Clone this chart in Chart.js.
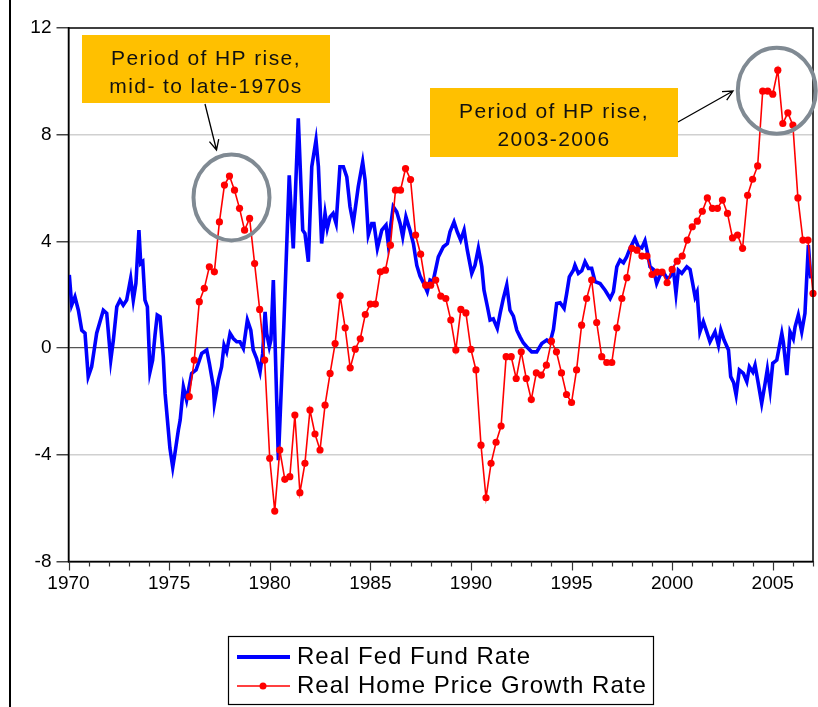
<!DOCTYPE html>
<html>
<head>
<meta charset="utf-8">
<script src="https://cdn.jsdelivr.net/npm/chart.js@4.4.1/dist/chart.umd.min.js"></script>
<style>
  html, body { margin: 0; padding: 0; background: #fff; }
  #wrap { width: 818px; height: 707px; }
</style>
</head>
<body>
<div id="wrap"><canvas id="rateChart" width="818" height="707"></canvas></div>
<script>
// real fed fund rate (decimal year, percent)
const fedYears = [1970.04,1970.16,1970.32,1970.49,1970.66,1970.82,1970.98,1971.15,1971.40,1971.73,1971.90,1972.10,1972.23,1972.40,1972.56,1972.72,1972.89,1973.09,1973.22,1973.35,1973.50,1973.59,1973.69,1973.80,1973.92,1974.05,1974.18,1974.30,1974.41,1974.55,1974.71,1974.80,1975.04,1975.18,1975.29,1975.46,1975.55,1975.71,1975.87,1976.12,1976.34,1976.62,1976.87,1977.00,1977.20,1977.25,1977.45,1977.61,1977.73,1977.86,1978.03,1978.19,1978.36,1978.52,1978.69,1978.89,1979.06,1979.18,1979.35,1979.52,1979.65,1979.77,1979.85,1979.98,1980.06,1980.18,1980.43,1980.70,1980.97,1981.17,1981.42,1981.64,1981.75,1981.92,1982.09,1982.30,1982.42,1982.58,1982.75,1982.86,1983.00,1983.15,1983.30,1983.49,1983.66,1983.83,1983.99,1984.15,1984.40,1984.62,1984.74,1984.90,1985.07,1985.18,1985.35,1985.57,1985.78,1985.89,1986.14,1986.31,1986.48,1986.61,1986.77,1986.97,1987.14,1987.31,1987.47,1987.67,1987.83,1987.97,1988.12,1988.38,1988.63,1988.83,1988.96,1989.16,1989.32,1989.49,1989.66,1989.82,1990.04,1990.20,1990.37,1990.54,1990.65,1990.82,1990.95,1991.11,1991.31,1991.45,1991.61,1991.78,1991.94,1992.11,1992.28,1992.44,1992.60,1992.77,1993.02,1993.27,1993.52,1993.77,1993.93,1994.10,1994.26,1994.43,1994.63,1994.76,1994.89,1995.09,1995.17,1995.34,1995.51,1995.67,1995.84,1996.00,1996.17,1996.42,1996.67,1996.92,1997.08,1997.25,1997.41,1997.58,1997.74,1997.91,1998.15,1998.32,1998.49,1998.65,1998.77,1998.90,1999.07,1999.23,1999.40,1999.60,1999.76,1999.89,2000.06,2000.19,2000.31,2000.48,2000.73,2000.89,2001.02,2001.14,2001.24,2001.38,2001.55,2001.72,2001.88,2002.13,2002.30,2002.42,2002.58,2002.80,2002.91,2003.06,2003.18,2003.34,2003.54,2003.71,2003.84,2004.01,2004.12,2004.28,2004.45,2004.62,2004.73,2004.87,2005.00,2005.20,2005.45,2005.53,2005.70,2005.86,2006.02,2006.11,2006.27,2006.44,2006.60,2006.77,2006.89];
const fedRate = [2.74,1.61,1.92,1.42,0.67,0.56,-1.07,-0.70,0.56,1.42,1.30,-0.45,0.30,1.55,1.80,1.61,1.80,2.61,1.80,2.43,4.42,3.17,3.24,1.80,1.55,-0.89,-0.45,0.49,1.24,1.17,-0.33,-1.70,-3.75,-4.47,-3.94,-3.07,-2.70,-1.45,-1.95,-0.95,-0.82,-0.20,-0.07,-0.57,-1.45,-2.07,-1.20,-0.70,0.11,-0.14,0.55,0.36,0.24,0.24,-0.01,1.05,0.67,-0.07,-0.39,-0.89,-0.20,1.36,0.55,0.05,0.30,2.55,-4.20,0.80,6.48,3.74,8.61,4.42,4.30,3.24,6.80,7.80,6.80,3.92,5.05,4.49,4.92,5.05,4.67,6.80,6.80,6.42,5.30,4.67,6.05,6.98,6.30,4.24,4.67,4.67,3.74,4.42,4.61,3.92,5.30,5.11,4.67,4.17,4.92,4.42,3.92,3.10,2.70,2.40,2.11,2.55,2.50,3.42,3.80,3.92,4.36,4.73,4.36,4.05,4.42,3.67,2.80,3.10,3.74,3.05,2.17,1.55,1.05,1.10,0.74,1.30,1.86,2.36,1.42,1.20,0.67,0.42,0.20,0.05,-0.14,-0.14,0.17,0.30,0.20,0.70,1.67,1.70,1.49,2.05,2.67,2.92,3.11,2.80,2.90,3.24,2.99,2.99,2.49,2.42,2.17,1.86,2.11,3.05,3.30,3.20,3.42,3.74,4.11,3.80,3.75,4.02,3.60,3.05,2.95,2.42,2.74,2.80,2.60,2.67,2.95,2.05,2.92,2.80,3.05,2.95,2.42,1.92,2.10,0.61,0.99,0.61,0.24,0.61,0.11,0.67,0.30,-0.07,-1.07,-1.30,-1.76,-0.82,-0.95,-1.26,-0.70,-0.90,-0.64,-1.32,-2.07,-1.32,-0.80,-1.57,-0.57,-0.45,0.55,0.20,-1.01,0.61,0.35,0.80,1.24,0.61,1.30,3.86,2.61];

// real home price growth rate, quarterly from 1976Q1
const hpStartYear = 1976;
const hpRate = [-1.82,-0.45,1.74,2.24,3.05,2.86,4.73,6.11,6.45,5.92,5.24,4.42,4.86,3.17,1.45,-0.45,-4.13,-6.11,-3.82,-4.92,-4.82,-2.51,-5.42,-4.32,-2.32,-3.22,-3.82,-2.14,-0.95,0.17,1.96,0.76,-0.74,-0.04,0.35,1.26,1.65,1.65,2.86,2.92,3.86,5.92,5.92,6.73,6.32,4.24,3.52,2.36,2.36,2.55,1.95,1.86,1.05,-0.07,1.45,1.32,-0.05,-0.82,-3.64,-5.61,-4.32,-3.53,-2.92,-0.32,-0.32,-1.14,-0.14,-1.14,-1.93,-0.93,-1.01,-0.64,0.26,-0.14,-0.93,-1.74,-2.04,-0.82,0.86,1.86,2.55,0.96,-0.32,-0.54,-0.54,0.76,1.86,2.64,3.74,3.67,3.45,3.45,2.76,2.85,2.85,2.45,2.95,3.26,3.45,4.05,4.55,4.76,5.13,5.63,5.24,5.24,5.55,5.05,4.13,4.24,3.74,5.73,6.33,6.83,9.63,9.63,9.52,10.42,8.42,8.82,8.36,5.63,4.05,4.05,2.05];

const xTickYears = [1970, 1975, 1980, 1985, 1990, 1995, 2000, 2005];
const yTickValues = [-8, -4, 0, 4, 8, 12];

const seriesNames = ['Real Fed Fund Rate', 'Real Home Price Growth Rate'];
const notes = [
  { lines: ['Period of HP rise,', 'mid- to late-1970s'] },
  { lines: ['Period of HP rise,', '2003-2006'] }
];

const fedPoints = fedYears.map((yr, i) => ({ x: yr, y: fedRate[i] }));
const hpPoints = hpRate.map((v, i) => ({ x: hpStartYear + i * 0.25, y: v }));

function drawArrow(ctx, x1, y1, x2, y2) {
  const ang = Math.atan2(y2 - y1, x2 - x1);
  ctx.beginPath();
  ctx.moveTo(x1, y1);
  ctx.lineTo(x2, y2);
  ctx.moveTo(x2 - 11 * Math.cos(ang - 0.45), y2 - 11 * Math.sin(ang - 0.45));
  ctx.lineTo(x2, y2);
  ctx.lineTo(x2 - 11 * Math.cos(ang + 0.45), y2 - 11 * Math.sin(ang + 0.45));
  ctx.stroke();
}

function drawNote(ctx, box, lines) {
  ctx.fillStyle = '#FFC000';
  ctx.fillRect(box.x, box.y, box.w, box.h);
  ctx.fillStyle = '#111';
  ctx.font = '21px "Liberation Sans", Arial, sans-serif';
  ctx.letterSpacing = '1.4px';
  ctx.textAlign = 'center';
  ctx.textBaseline = 'alphabetic';
  ctx.fillText(lines[0], box.x + box.w / 2, box.y + 30);
  ctx.fillText(lines[1], box.x + box.w / 2, box.y + 58);
  ctx.letterSpacing = '0px';
}

const extras = {
  id: 'extras',
  afterDraw(chart) {
    const ctx = chart.ctx;
    const area = chart.chartArea;
    const xs = chart.scales.x;
    const ys = chart.scales.y;
    ctx.save();

    // frame of the plot
    ctx.strokeStyle = '#000';
    ctx.lineWidth = 1.5;
    ctx.strokeRect(area.left, area.top, area.right - area.left, area.bottom - area.top);

    // yearly ticks on the time axis
    ctx.lineWidth = 1.2;
    ctx.strokeStyle = '#333';
    for (let yr = 1970; yr <= 2007; yr++) {
      const px = Math.round(xs.getPixelForValue(yr)) + 0.5;
      const len = yr % 5 === 0 ? 9 : 5;
      ctx.beginPath();
      ctx.moveTo(px, area.bottom);
      ctx.lineTo(px, area.bottom + len);
      ctx.stroke();
    }

    // outer frame line on the left
    ctx.strokeStyle = '#000';
    ctx.lineWidth = 2;
    ctx.beginPath();
    ctx.moveTo(10, 0);
    ctx.lineTo(10, 707);
    ctx.stroke();

    // circles round the two periods
    ctx.strokeStyle = '#808a93';
    ctx.lineWidth = 4;
    ctx.beginPath();
    ctx.ellipse(xs.getPixelForValue(1978.1), ys.getPixelForValue(5.65), 38, 43, 0, 0, Math.PI * 2);
    ctx.stroke();
    ctx.beginPath();
    ctx.ellipse(xs.getPixelForValue(2005.2), ys.getPixelForValue(9.65), 39, 43, 0, 0, Math.PI * 2);
    ctx.stroke();

    // note boxes and arrows
    drawNote(ctx, { x: 82, y: 35, w: 248, h: 68 }, notes[0].lines);
    drawNote(ctx, { x: 430, y: 88, w: 248, h: 69 }, notes[1].lines);
    ctx.strokeStyle = '#000';
    ctx.lineWidth = 1.3;
    drawArrow(ctx, 205, 104, 216.5, 150);
    drawArrow(ctx, 678, 122, 733, 91);

    // legend
    ctx.strokeStyle = '#000';
    ctx.lineWidth = 1.2;
    ctx.strokeRect(228.5, 636.5, 425, 68);
    ctx.strokeStyle = '#0000FF';
    ctx.lineWidth = 4;
    ctx.beginPath();
    ctx.moveTo(237, 657);
    ctx.lineTo(290, 657);
    ctx.stroke();
    ctx.strokeStyle = '#FF0000';
    ctx.lineWidth = 1.5;
    ctx.beginPath();
    ctx.moveTo(237, 686);
    ctx.lineTo(290, 686);
    ctx.stroke();
    ctx.fillStyle = '#FF0000';
    ctx.beginPath();
    ctx.arc(263, 686, 3.5, 0, Math.PI * 2);
    ctx.fill();
    ctx.fillStyle = '#000';
    ctx.font = '24px "Liberation Sans", Arial, sans-serif';
    ctx.letterSpacing = '1px';
    ctx.textAlign = 'left';
    ctx.textBaseline = 'middle';
    ctx.fillText(seriesNames[0], 297, 657);
    ctx.fillText(seriesNames[1], 297, 686);
    ctx.restore();
  }
};

const ctx = document.getElementById('rateChart');

new Chart(ctx, {
  type: 'line',
  data: {
    datasets: [{
      label: seriesNames[1],
      data: hpPoints,
      borderColor: '#FF0000',
      backgroundColor: '#FF0000',
      borderWidth: 1.6,
      pointRadius: 3.6,
      pointBorderWidth: 0,
      pointBackgroundColor: '#FF0000',
      tension: 0,
      clip: { left: 0, top: 0, right: 6, bottom: 0 },
      order: 0
    }, {
      label: seriesNames[0],
      data: fedPoints,
      borderColor: '#0000FF',
      borderWidth: 3.6,
      pointRadius: 0,
      tension: 0,
      order: 1
    }]
  },
  options: {
    responsive: false,
    animation: false,
    layout: { padding: { left: 0, right: 5, top: 28, bottom: 105.5 } },
    plugins: {
      legend: { display: false },
      tooltip: { enabled: false }
    },
    scales: {
      x: {
        type: 'linear',
        min: 1970,
        max: 2007,
        afterBuildTicks: (scale) => { scale.ticks = xTickYears.map(v => ({ value: v })); },
        afterFit: (scale) => { scale.height = 40; },
        grid: { display: true, drawOnChartArea: false, drawTicks: false },
        border: { color: '#000', width: 1.5 },
        ticks: {
          padding: 11,
          maxRotation: 0,
          color: '#000',
          font: { family: '"Liberation Sans", Arial, sans-serif', size: 19 },
          callback: (v) => String(v)
        }
      },
      y: {
        min: -8,
        max: 12,
        afterBuildTicks: (scale) => { scale.ticks = yTickValues.map(v => ({ value: v })); },
        afterFit: (scale) => { scale.width = 68.5; },
        grid: {
          color: (c) => {
            const v = c.tick ? c.tick.value : null;
            if (v === 0) return '#555555';
            if (v === 12 || v === -8) return 'rgba(0,0,0,0)';
            return '#d0d0d0';
          },
          lineWidth: (c) => (c.tick && c.tick.value === 0 ? 1.3 : 1.5),
          tickColor: '#444',
          tickLength: 12,
          drawTicks: true
        },
        border: { color: '#000', width: 1.5 },
        ticks: {
          padding: 5,
          color: '#000',
          font: { family: '"Liberation Sans", Arial, sans-serif', size: 19 },
          callback: (v) => String(v)
        }
      }
    }
  },
  plugins: [extras]
});
</script>
</body>
</html>
